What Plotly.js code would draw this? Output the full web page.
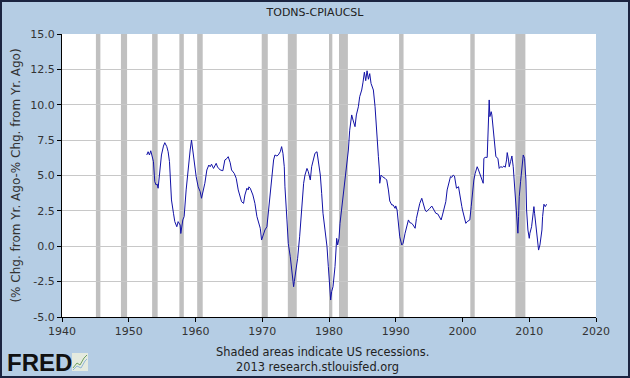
<!DOCTYPE html>
<html>
<head>
<meta charset="utf-8">
<script src="https://cdn.plot.ly/plotly-3.0.1.min.js"></script>
<style>
html,body{margin:0;padding:0;background:#B5CDE4;}
#wrap{box-sizing:border-box;width:630px;height:378px;border:2px solid #1b2440;background:#B5CDE4;}
#chart{width:626px;height:374px;}
</style>
</head>
<body>
<div id="wrap"><div id="chart"></div></div>
<script>
// Decimal-year dates and values of the series (TODNS % chg YoY minus CPIAUCSL % chg YoY)
const years = [
1952.7,1952.9,1953.1,1953.3,1953.7,1953.9,1954.1,1954.25,1954.4,1954.7,1954.9,1955.2,1955.4,1955.7,1955.9,
1956.1,1956.3,1956.4,1956.7,1956.9,1957.2,1957.4,1957.7,1957.8,1958.1,1958.3,1958.6,1958.9,1959.2,1959.4,
1959.6,1959.8,1960.1,1960.4,1960.7,1960.9,1961.2,1961.4,1961.7,1962.0,1962.2,1962.4,1962.7,1963.1,1963.3,
1963.7,1964.1,1964.4,1964.7,1964.9,1965.2,1965.4,1965.8,1966.1,1966.4,1966.7,1966.9,1967.2,1967.4,1967.7,
1967.9,1968.0,1968.2,1968.6,1968.9,1969.2,1969.4,1969.7,1969.9,1970.2,1970.4,1970.7,1970.9,1971.2,1971.5,
1971.7,1971.9,1972.2,1972.4,1972.7,1972.9,1973.1,1973.3,1973.4,1973.7,1973.9,1974.2,1974.4,1974.7,1974.8,
1975.1,1975.3,1975.6,1975.8,1976.0,1976.2,1976.4,1976.7,1976.9,1977.2,1977.4,1977.7,1977.9,1978.2,1978.4,
1978.7,1978.9,1979.1,1979.4,1979.7,1979.9,1980.05,1980.25,1980.4,1980.6,1980.9,1981.05,1981.15,1981.3,1981.5,
1981.65,1981.9,1982.1,1982.4,1982.6,1982.9,1983.1,1983.4,1983.6,1983.9,1984.1,1984.4,1984.6,1984.9,1985.1,
1985.3,1985.5,1985.7,1985.9,1986.1,1986.3,1986.65,1986.9,1987.1,1987.4,1987.55,1987.6,1987.8,1988.0,1988.4,
1988.65,1988.9,1989.1,1989.4,1989.6,1989.9,1990.0,1990.2,1990.45,1990.6,1990.9,1991.1,1991.4,1991.65,1991.9,
1992.1,1992.4,1992.6,1992.9,1993.1,1993.4,1993.6,1993.9,1994.1,1994.4,1994.6,1994.9,1995.1,1995.4,1995.6,
1995.8,1996.0,1996.3,1996.5,1996.8,1997.0,1997.3,1997.5,1997.7,1998.0,1998.2,1998.4,1998.6,1998.8,1999.0,
1999.1,1999.4,1999.5,1999.7,1999.9,2000.0,2000.3,2000.5,2000.7,2001.0,2001.1,2001.3,2001.5,2001.7,2001.9,
2002.2,2002.4,2002.6,2002.9,2003.1,2003.2,2003.4,2003.7,2003.8,2004.0,2004.1,2004.3,2004.4,2004.6,2004.9,
2005.0,2005.3,2005.5,2005.7,2006.0,2006.2,2006.4,2006.6,2006.7,2006.9,2007.0,2007.2,2007.4,2007.6,2007.8,
2008.0,2008.2,2008.3,2008.4,2008.5,2008.7,2008.9,2009.1,2009.3,2009.5,2009.6,2009.8,2010.0,2010.1,2010.35,
2010.55,2010.7,2010.8,2011.0,2011.2,2011.4,2011.6,2011.9,2012.0,2012.2,2012.4,2012.6
];
const values = [
6.45,6.68,6.45,6.75,5.98,4.56,4.33,4.4,4.1,5.4,6.45,7.08,7.32,7.04,6.68,
5.98,4.45,3.27,2.33,1.74,1.38,1.74,1.5,0.9,1.86,2.1,3.98,5.62,6.8,7.5,
6.8,5.86,4.92,4.2,3.86,3.39,3.98,4.45,5.39,5.74,5.62,5.8,5.5,5.86,5.6,
5.39,5.34,6.1,6.2,6.33,5.9,5.39,5.15,4.8,3.98,3.5,3.15,3.03,3.62,4.1,
3.98,4.2,4.1,3.62,3.03,2.1,1.74,1.27,0.44,0.92,1.15,1.38,2.33,3.98,5.15,
6.1,6.45,6.38,6.45,6.68,7.04,6.57,5.62,4.2,1.86,0.2,-0.74,-1.68,-2.86,-2.5,
-1.56,-0.85,0.67,2.1,3.74,4.45,5.03,5.5,5.27,4.68,5.62,6.21,6.57,6.68,5.98,
5.03,3.74,2.33,1.15,-0.03,-1.44,-2.86,-3.8,-3.2,-2.86,-1.44,-0.27,0.56,0.09,0.56,
1.62,2.68,3.15,4.45,5.62,6.8,8.2,9.28,8.92,8.45,9.28,9.86,10.57,11.04,11.6,
12.3,11.7,12.4,11.8,12.2,11.5,11.04,9.86,8.2,6.33,5.39,4.45,5.03,4.92,4.8,
4.68,3.98,3.2,2.92,2.92,2.68,2.85,2.56,1.38,0.67,0.09,0.21,0.92,1.38,1.86,
1.67,1.62,1.5,1.27,1.97,2.56,3.03,3.39,3.03,2.56,2.44,2.56,2.68,2.84,2.7,
2.56,2.33,2.28,2.1,1.86,2.21,2.68,3.15,3.98,4.56,4.92,4.87,5.03,4.96,4.33,
4.1,4.21,3.86,3.39,2.8,2.56,2.1,1.62,1.74,1.81,1.86,2.8,3.98,4.68,5.15,
5.62,5.39,5.15,4.8,4.45,6.21,6.28,6.28,8.33,10.34,9.16,9.51,9.28,8.22,7.04,
6.33,6.21,5.5,5.62,5.58,5.67,5.58,6.1,6.62,6.1,5.62,5.98,6.38,5.62,4.45,
3.27,1.62,0.92,2.1,3.5,4.56,5.62,6.45,6.21,4.68,2.56,1.15,0.56,0.92,1.38,
2.1,2.8,2.33,1.38,0.56,-0.27,0.09,1.15,2.1,2.97,2.8,2.97
];
// NBER recession periods (start, end) in decimal years
const recStart = [1945.08,1948.83,1953.5,1957.58,1960.25,1969.92,1973.83,1980.0,1981.5,1990.5,2001.17,2007.92];
const recEnd   = [1945.75,1949.75,1954.33,1958.25,1961.08,1970.83,1975.17,1980.5,1982.83,1991.17,2001.83,2009.42];
const xTicks = [1940,1950,1960,1970,1980,1990,2000,2010,2020];
const yTicks = [-5,-2.5,0,2.5,5,7.5,10,12.5,15];

const FONT = 'DejaVu Sans, Verdana, sans-serif';
const shapes = recStart.map((s,i)=>({
  type:'rect', xref:'x', yref:'paper', x0:s, x1:recEnd[i], y0:0, y1:1,
  fillcolor:'#C0C0C0', line:{width:0}, layer:'between'
}));
// FRED logo icon (small chart box)
const pl = 60, pw = 534, pt = 32, ph = 283; // plot geometry inside the 626x374 div
const px = v => (v - pl) / pw;
const py = v => (pt + ph - v) / ph;
shapes.push({type:'rect', xref:'paper', yref:'paper', x0:px(70), x1:px(86), y0:py(369), y1:py(351),
  fillcolor:'#E4EADF', line:{width:0}, layer:'above'});
shapes.push({type:'path', xref:'paper', yref:'paper', layer:'above',
  path:`M ${px(71)} ${py(366)} L ${px(75)} ${py(361)} L ${px(78)} ${py(363)} L ${px(82)} ${py(356)} L ${px(85)} ${py(353)}`,
  line:{color:'#6FA060', width:1}});
shapes.push({type:'path', xref:'paper', yref:'paper', layer:'above',
  path:`M ${px(71)} ${py(368)} L ${px(75)} ${py(364)} L ${px(79)} ${py(366)} L ${px(83)} ${py(359)} L ${px(85)} ${py(357)}`,
  line:{color:'#8FB6D8', width:1}});

const data = [{
  x: years, y: values, type:'scatter', mode:'lines',
  line:{color:'#1212A6', width:1}, hoverinfo:'skip'
}];

const layout = {
  width:626, height:374,
  margin:{l:60, r:32, t:32, b:59},
  paper_bgcolor:'#B5CDE4', plot_bgcolor:'#FFFFFF',
  showlegend:false,
  title:{text:'TODNS-CPIAUCSL', font:{family:FONT, size:11, color:'#222'}, x:0.5, xanchor:'center', y:0.972, yanchor:'middle'},
  xaxis:{range:[1940,2020], tickvals:xTicks, ticktext:xTicks.map(String), showgrid:false, zeroline:false,
    showline:true, linecolor:'#000', linewidth:1, ticks:'outside', ticklen:4, tickcolor:'#000',
    tickfont:{family:FONT, size:11, color:'#333'}, fixedrange:true},
  yaxis:{range:[-5,15], tickvals:yTicks, ticktext:yTicks.map(v=>v.toFixed(1)), showgrid:true, gridcolor:'#C8C8C8', gridwidth:1,
    zeroline:false, showline:true, linecolor:'#000', linewidth:1, ticks:'outside', ticklen:4, tickcolor:'#000',
    tickfont:{family:FONT, size:11, color:'#333'},
    title:{text:'(% Chg. from Yr. Ago-% Chg. from Yr. Ago)', font:{family:FONT, size:12, color:'#333'}, standoff:7},
    fixedrange:true},
  shapes: shapes,
  annotations:[
    {text:'Shaded areas indicate US recessions.', xref:'paper', yref:'paper', x:px(320), y:py(350), xanchor:'center', yanchor:'middle',
     showarrow:false, font:{family:FONT, size:11.4, color:'#222'}},
    {text:'2013 research.stlouisfed.org', xref:'paper', yref:'paper', x:px(315), y:py(365), xanchor:'center', yanchor:'middle',
     showarrow:false, font:{family:FONT, size:11.4, color:'#222'}},
    {text:'<b>FRED</b>', xref:'paper', yref:'paper', x:px(3), y:py(360), xanchor:'left', yanchor:'middle',
     showarrow:false, font:{family:'Liberation Sans, Arial, sans-serif', size:24, color:'#111'}}
  ]
};
Plotly.newPlot('chart', data, layout, {displayModeBar:false, staticPlot:true});
</script>
</body>
</html>
